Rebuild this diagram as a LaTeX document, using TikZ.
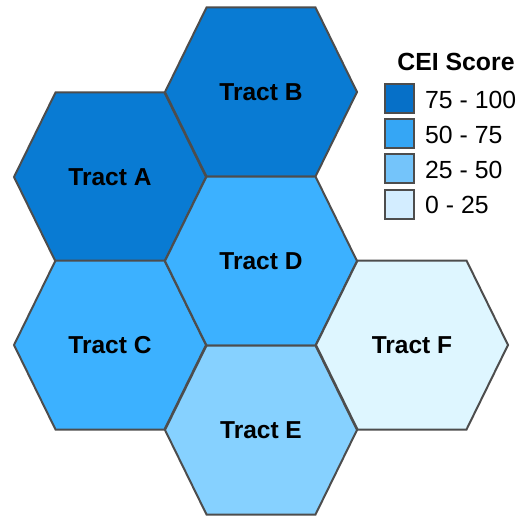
\documentclass[tikz,border=0pt]{standalone}
\usepackage{fontspec}
\setmainfont{Liberation Sans}
\definecolor{edgegray}{HTML}{4D4D4D}
\definecolor{hexdark}{HTML}{097BD3}
\definecolor{hexmid}{HTML}{3CB1FF}
\definecolor{hexlight}{HTML}{86D1FF}
\definecolor{hexpale}{HTML}{DEF6FF}
\definecolor{keydark}{HTML}{0670C8}
\definecolor{keymid}{HTML}{35A6F5}
\definecolor{keylight}{HTML}{74C4FA}
\definecolor{keypale}{HTML}{D3EDFF}
\tikzset{
  hexedge/.style={draw=edgegray, line width=2pt, line join=miter},
  tractlabel/.style={font=\bfseries\fontsize{24.5}{28}\selectfont, text=black, inner sep=0pt},
  keybox/.style={draw=edgegray, line width=2pt, minimum width=29pt, minimum height=29pt, inner sep=0pt},
  keylabel/.style={font=\fontsize{24.8}{28}\selectfont, text=black, anchor=west, inner sep=0pt},
  keytitle/.style={font=\bfseries\fontsize{24.8}{28}\selectfont, text=black, inner sep=0pt},
  pics/hexcell/.style args={#1/#2}{code={
    \draw[hexedge, fill=#1] (-96,0) -- (-54.5,-84.5) -- (54.5,-84.5) -- (96,0)
      -- (54.5,84.5) -- (-54.5,84.5) -- cycle;
    \node[tractlabel] (-label) at (0,0) {#2};
  }}
}
\begin{document}
\begin{tikzpicture}[x=1pt, y=-1pt]
\useasboundingbox (0,0) rectangle (519,516);
\pic (A) at (110,177) {hexcell={hexdark/Tract A}};
\pic (B) at (261,92) {hexcell={hexdark/Tract B}};
\pic (C) at (110,345) {hexcell={hexmid/Tract C}};
\pic (D) at (261,261) {hexcell={hexmid/Tract D}};
\pic (E) at (261,430) {hexcell={hexlight/Tract E}};
\pic (F) at (412,345) {hexcell={hexpale/Tract F}};
% legend
\node[keytitle] (title) at (456,62) {CEI Score};
\node[keybox, fill=keydark] (k1) at (399.5,98.5) {};
\node[keybox, fill=keymid] (k2) at (399.5,133.5) {};
\node[keybox, fill=keylight] (k3) at (399.5,168.5) {};
\node[keybox, fill=keypale] (k4) at (399.5,204.5) {};
\node[keylabel] (l1) at (425,100) {75 - 100};
\node[keylabel] (l2) at (425,135) {50 - 75};
\node[keylabel] (l3) at (425,170) {25 - 50};
\node[keylabel] (l4) at (425,205) {0 - 25};
\end{tikzpicture}
\end{document}
